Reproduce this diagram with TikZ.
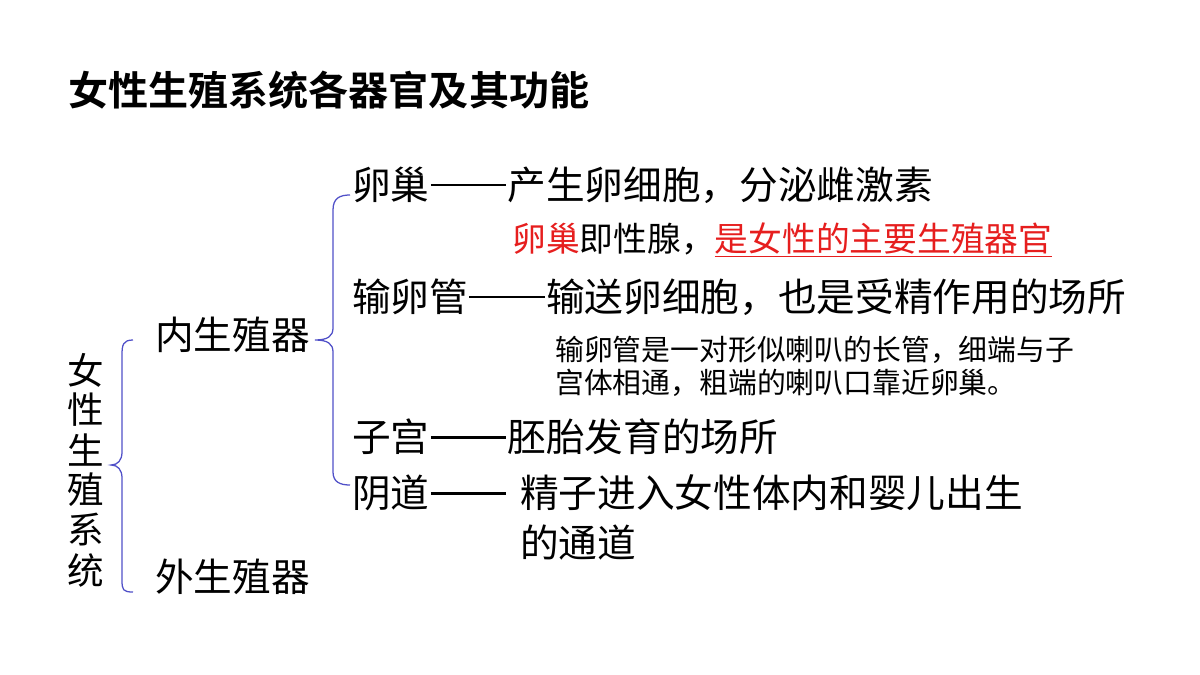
\documentclass[tikz,border=0pt]{standalone}
\usepackage{fontspec}
\setmainfont{Noto Sans CJK SC}
\newfontfamily\cjkbold{Noto Sans CJK SC Bold}
\usepackage{xcolor}
\definecolor{braceBlue}{RGB}{80, 80, 200}
\definecolor{noteRed}{RGB}{230, 30, 30}
\newcommand\longdash{\hspace{0.03em}\rule[0.33em]{1.95em}{0.07em}\hspace{0.03em}}
\tikzset{
  big/.style={anchor=west,inner sep=0pt,font=\fontsize{27.5}{30}\selectfont},
  mid/.style={anchor=west,inner sep=0pt,font=\fontsize{24}{28}\selectfont},
  small/.style={anchor=west,inner sep=0pt,font=\fontsize{20.5}{24}\selectfont},
  vchar/.style={inner sep=0pt,font=\fontsize{26}{28}\selectfont},
  bracepath/.style={braceBlue,line width=0.9pt}
}
\begin{document}
\begin{tikzpicture}[x=0.025cm,y=-0.025cm]
\useasboundingbox (0,0) rectangle (1200,675);
% title
\node[anchor=west,inner sep=0pt,font=\cjkbold\fontsize{28.5}{30}\selectfont] (title) at (68,90) {女性生殖系统各器官及其功能};
% vertical label
\foreach \c [count=\i] in {女,性,生,殖,系,统}
  \node[vchar] (v\i) at (86,330+40*\i) {\c};
% level 1
\node[big] (inner) at (155,335) {内生殖器};
\node[big] (outer) at (155,577) {外生殖器};
\draw[bracepath] (133,340) .. controls (123,340) and (122,345) .. (122,355) -- (122,452)
  .. controls (122,460) and (118,465) .. (111,465)
  .. controls (118,465) and (122,470) .. (122,478) -- (122,580)
  .. controls (122,590) and (123,592) .. (133,592);
% level 2
\draw[bracepath] (350,195) .. controls (340,195) and (333,198) .. (333,210) -- (333,328)
  .. controls (333,336) and (328,340) .. (315,340)
  .. controls (328,340) and (333,344) .. (333,352) -- (333,472)
  .. controls (333,482) and (340,485) .. (350,485);
\node[big] (ovary) at (352,185) {卵巢\longdash 产生卵细胞，分泌雌激素};
\node[mid] (ovnote) at (512,240) {\textcolor{noteRed}{卵巢}即性腺，\textcolor{noteRed}{\underline{是女性的主要生殖器官}}};
\node[big] (tube) at (352,297) {输卵管\longdash 输送卵细胞，也是受精作用的场所};
\node[small] (tubenote1) at (555,350) {输卵管是一对形似喇叭的长管，细端与子};
\node[small] (tubenote2) at (555,383) {宫体相通，粗端的喇叭口靠近卵巢。};
\node[big] (uterus) at (352,437) {子宫\longdash 胚胎发育的场所};
\node[big] (vagina) at (352,493) {阴道\longdash};
\node[big] (vagtext1) at (520,493) {精子进入女性体内和婴儿出生};
\node[big] (vagtext2) at (520,543) {的通道};
\end{tikzpicture}
\end{document}
